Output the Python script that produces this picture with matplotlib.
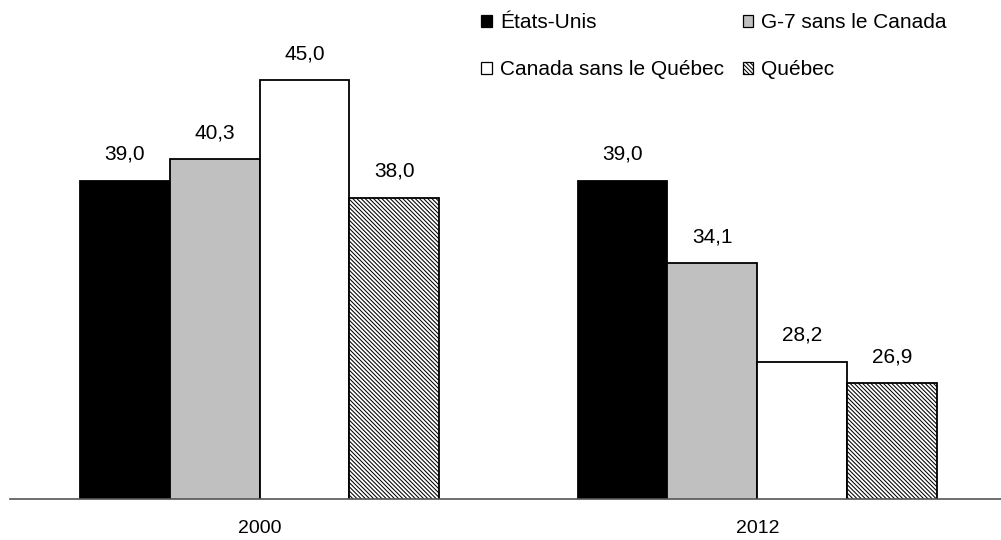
import numpy as np
import matplotlib.pyplot as plt
from matplotlib.patches import Patch

plt.rcParams["font.family"] = ["Liberation Sans", "DejaVu Sans"]
plt.rcParams["hatch.linewidth"] = 0.75
plt.rcParams["hatch.color"] = "#555555"

years = ["2000", "2012"]
series = ["États-Unis", "G-7 sans le Canada", "Canada sans le Québec", "Québec"]
etats_unis = [39.0, 39.0]
g7 = [40.3, 34.1]
canada = [45.0, 28.2]
quebec = [38.0, 26.9]
values = [etats_unis, g7, canada, quebec]

faces = ["black", "#c0c0c0", "white", "white"]
hatches = [None, None, None, "\\" * 8]

fig = plt.figure(figsize=(10.01, 5.4), dpi=100)
ax = fig.add_axes([0.01, 0.0759, 0.99, 0.924])

x = np.arange(len(years))
w = 0.1807
for ii, vals in enumerate(values):
  pos = x + (ii - 1.5) * w
  ax.bar(pos, vals, width=w, bottom=0, color=faces[ii], edgecolor="black",
         linewidth=1.3, hatch=hatches[ii], zorder=2)
  for xx, v in zip(pos, vals):
    ax.annotate(f"{v:.1f}".replace(".", ","), (xx, v), xytext=(0, 19),
                textcoords="offset points", ha="center", va="center",
                fontsize=15)
# end for

ax.set_xlim(-0.501, 1.489)
ax.set_ylim(20, 49.8)
for s in ["top", "right", "left"]:
  ax.spines[s].set_visible(False)
ax.spines["bottom"].set_color("#555555")
ax.spines["bottom"].set_linewidth(1.2)
ax.spines["bottom"].set_zorder(3)
ax.set_yticks([])
ax.set_xticks(x)
ax.set_xticklabels(years, fontsize=14)
ax.tick_params(axis="x", length=0, pad=15)

handles = [Patch(facecolor=faces[ii], edgecolor="black", linewidth=0.9,
                 hatch=hatches[ii]) for ii in range(4)]
order = [0, 2, 1, 3]
fig.legend([handles[i] for i in order], [series[i] for i in order],
           ncol=2, frameon=False, fontsize=15, handlelength=0.5,
           handleheight=0.5, handletextpad=0.4, columnspacing=0.9,
           labelspacing=1.35, loc="upper left",
           bbox_to_anchor=(0.462, 1.01))

fig.savefig("out.png", dpi=100)
